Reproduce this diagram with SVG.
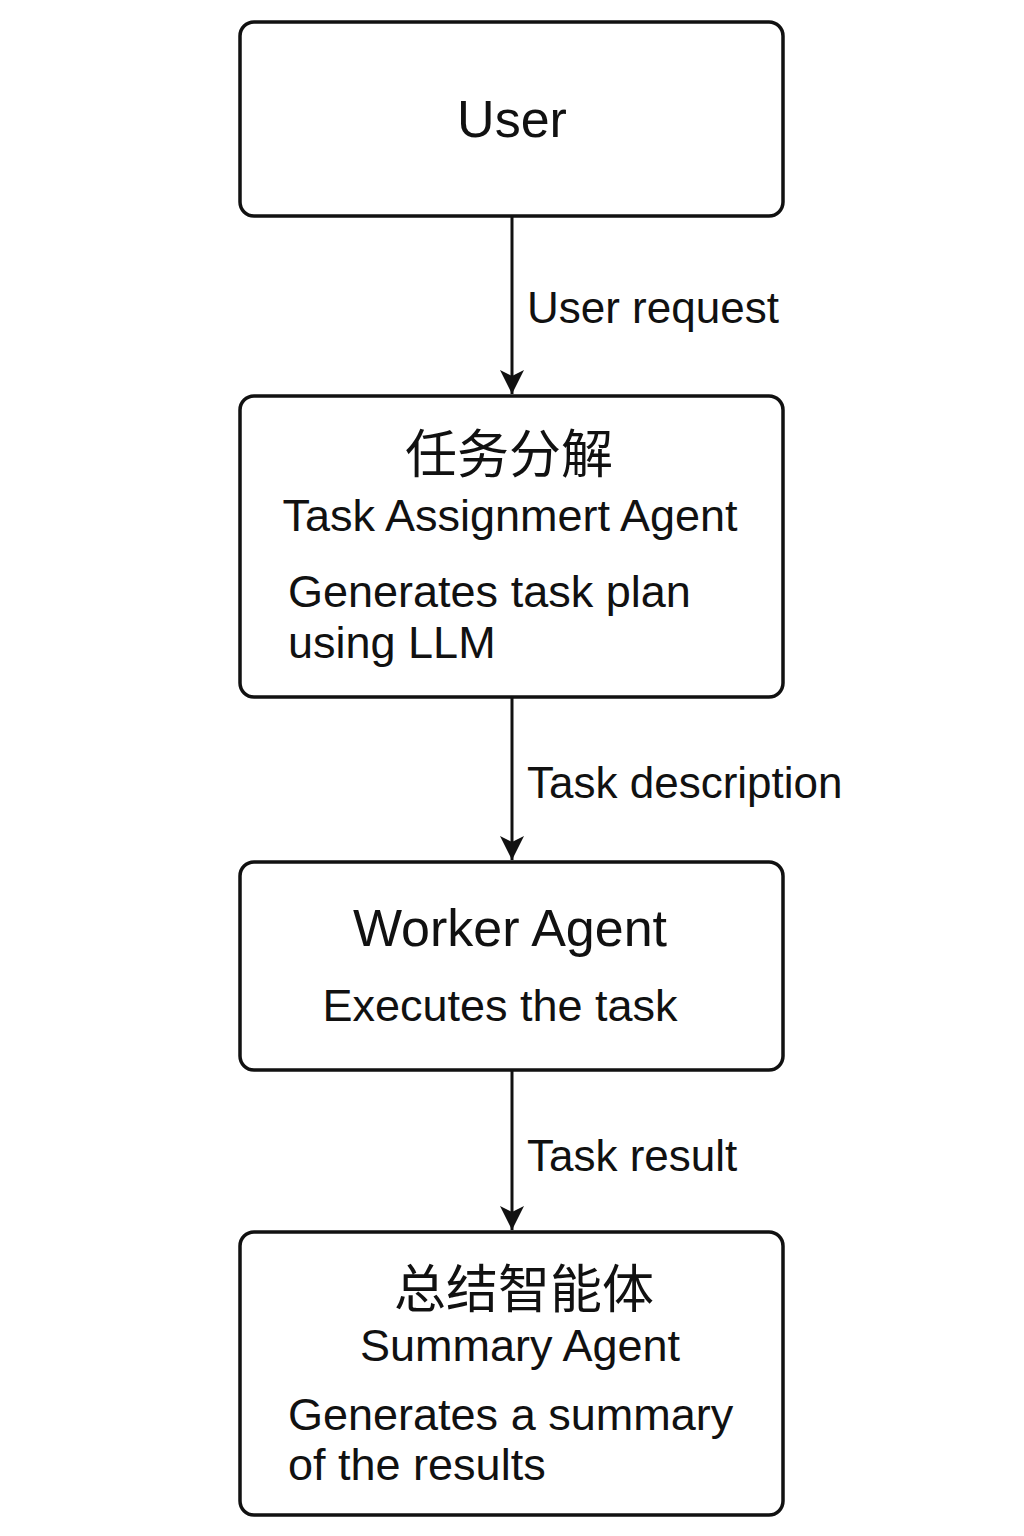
<svg xmlns="http://www.w3.org/2000/svg" width="1024" height="1536" viewBox="0 0 1024 1536">
<style>
.box{fill:#fff;stroke:#111;stroke-width:3.5}
text{font-family:"Liberation Sans","Noto Sans CJK SC",sans-serif;fill:#111}
.t{font-size:52px}
.c{font-size:52px}
.s{font-size:45px}
.l{font-size:44px}
.e{stroke:#111;stroke-width:3;fill:none}
</style>
<defs>
<marker id="arr" markerWidth="24" markerHeight="26" refX="24" refY="12" orient="auto" markerUnits="userSpaceOnUse"><path d="M0,0 L24,12 L0,24 L6,12 Z" fill="#111"/></marker></defs>
<rect width="1024" height="1536" fill="#fff"/>
<g id="user"><rect class="box" x="240" y="22" width="543" height="194" rx="14"/><text class="t" x="512" y="137" text-anchor="middle">User</text></g>
<g id="task"><rect class="box" x="240" y="396" width="543" height="301" rx="14"/>
<text class="c" x="509" y="473" text-anchor="middle">任务分解</text>
<text class="s" x="510" y="531" text-anchor="middle">Task Assignmert Agent</text>
<text class="s" x="288" y="607">Generates task plan</text>
<text class="s" x="288" y="658">using LLM</text></g>
<g id="worker"><rect class="box" x="240" y="862" width="543" height="208" rx="14"/>
<text class="t" x="510" y="946" text-anchor="middle">Worker Agent</text>
<text class="s" x="500" y="1021" text-anchor="middle">Executes the task</text></g>
<g id="summary"><rect class="box" x="240" y="1232" width="543" height="283" rx="14"/>
<text class="c" x="524" y="1308" text-anchor="middle">总结智能体</text>
<text class="s" x="520" y="1361" text-anchor="middle">Summary Agent</text>
<text class="s" x="288" y="1430">Generates a summary</text>
<text class="s" x="288" y="1480">of the results</text></g>
<g id="edges">
<line class="e" x1="512" y1="216" x2="512" y2="394" marker-end="url(#arr)"/>
<line class="e" x1="512" y1="697" x2="512" y2="860" marker-end="url(#arr)"/>
<line class="e" x1="512" y1="1070" x2="512" y2="1230" marker-end="url(#arr)"/>
<text class="l" x="527" y="323">User request</text>
<text class="l" x="527" y="798">Task description</text>
<text class="l" x="527" y="1171">Task result</text>
</g>
</svg>
